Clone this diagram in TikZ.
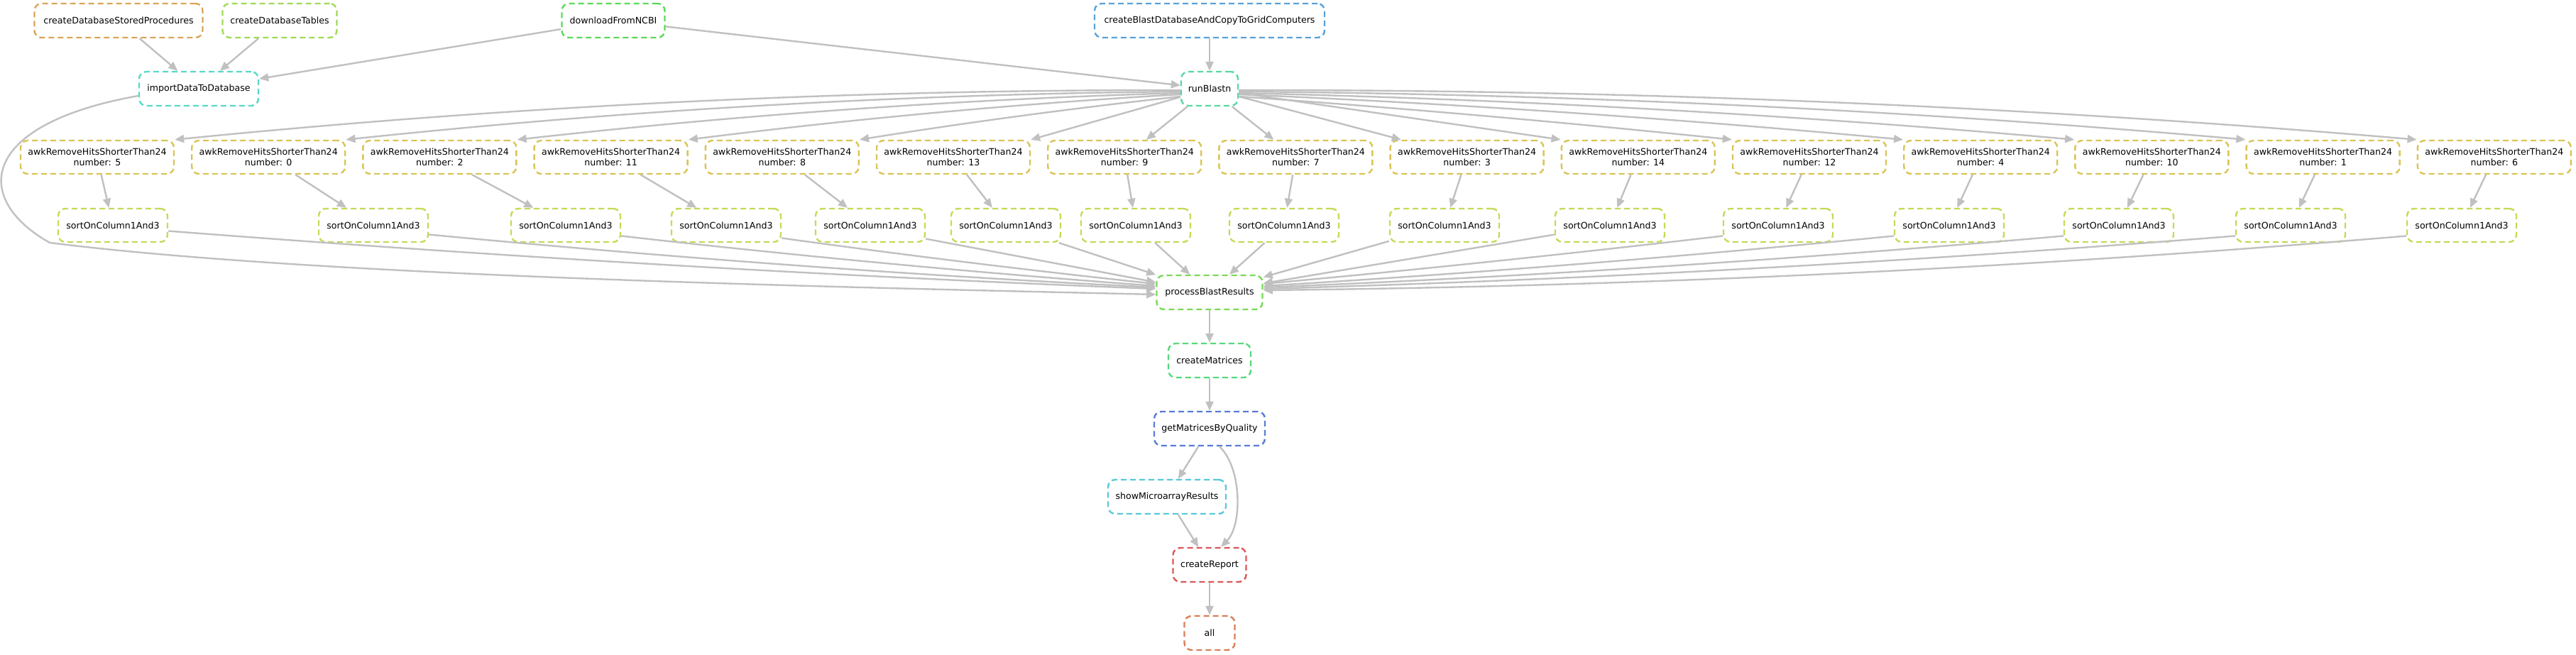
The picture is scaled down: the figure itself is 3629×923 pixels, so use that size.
\documentclass[tikz,border=0pt]{standalone}
\usepackage{fontspec}
\setmainfont{DejaVu Sans}
\usetikzlibrary{arrows.meta}
\definecolor{edgegray}{RGB}{192,192,192}
\definecolor{h000}{RGB}{217,87,87}
\definecolor{h005}{RGB}{217,126,87}
\definecolor{h010}{RGB}{217,165,87}
\definecolor{h014}{RGB}{217,196,87}
\definecolor{h019}{RGB}{199,217,87}
\definecolor{h024}{RGB}{160,217,87}
\definecolor{h029}{RGB}{121,217,87}
\definecolor{h033}{RGB}{90,217,87}
\definecolor{h038}{RGB}{87,217,123}
\definecolor{h043}{RGB}{87,217,162}
\definecolor{h048}{RGB}{87,217,201}
\definecolor{h052}{RGB}{87,201,217}
\definecolor{h057}{RGB}{87,162,217}
\definecolor{h062}{RGB}{87,123,217}
\begin{document}
\begin{tikzpicture}[x=1pt,y=1pt,
  rulebox/.style={draw=#1, rectangle, rounded corners=10pt, line width=2.4pt,
    dash pattern=on 8pt off 5pt, minimum height=48pt, inner sep=0pt,
    font=\fontsize{12.6}{15}\selectfont, align=center, text=black},
  awkbox/.style={rulebox=h014, minimum width=216pt, minimum height=47pt},
  sortbox/.style={rulebox=h019, minimum width=154pt, minimum height=47pt},
  dagedge/.style={draw=edgegray, line width=2.4pt, -{Triangle[length=13pt,width=11pt]}}]
\useasboundingbox (0,0) rectangle (3629,-923);

% top rows
\node[rulebox=h010, minimum width=237pt] (cdsp) at (167,-29) {createDatabaseStoredProcedures};
\node[rulebox=h024, minimum width=161pt] (cdt) at (394,-29) {createDatabaseTables};
\node[rulebox=h033, minimum width=145pt] (dl) at (864,-29) {downloadFromNCBI};
\node[rulebox=h057, minimum width=324pt] (cbd) at (1704,-29) {createBlastDatabaseAndCopyToGridComputers};
\node[rulebox=h048, minimum width=168pt] (imp) at (280,-125) {importDataToDatabase};
\node[rulebox=h043, minimum width=80pt] (rb) at (1704,-125) {runBlastn};

% awk row
\node[awkbox] (a5)  at (137.0,-221.5)  {awkRemoveHitsShorterThan24\\number: 5};
\node[awkbox] (a0)  at (378.2,-221.5)  {awkRemoveHitsShorterThan24\\number: 0};
\node[awkbox] (a2)  at (619.4,-221.5)  {awkRemoveHitsShorterThan24\\number: 2};
\node[awkbox] (a11) at (860.6,-221.5)  {awkRemoveHitsShorterThan24\\number: 11};
\node[awkbox] (a8)  at (1101.8,-221.5) {awkRemoveHitsShorterThan24\\number: 8};
\node[awkbox] (a13) at (1343.0,-221.5) {awkRemoveHitsShorterThan24\\number: 13};
\node[awkbox] (a9)  at (1584.2,-221.5) {awkRemoveHitsShorterThan24\\number: 9};
\node[awkbox] (a7)  at (1825.4,-221.5) {awkRemoveHitsShorterThan24\\number: 7};
\node[awkbox] (a3)  at (2066.6,-221.5) {awkRemoveHitsShorterThan24\\number: 3};
\node[awkbox] (a14) at (2307.8,-221.5) {awkRemoveHitsShorterThan24\\number: 14};
\node[awkbox] (a12) at (2549.0,-221.5) {awkRemoveHitsShorterThan24\\number: 12};
\node[awkbox] (a4)  at (2790.2,-221.5) {awkRemoveHitsShorterThan24\\number: 4};
\node[awkbox] (a10) at (3031.4,-221.5) {awkRemoveHitsShorterThan24\\number: 10};
\node[awkbox] (a1)  at (3272.6,-221.5) {awkRemoveHitsShorterThan24\\number: 1};
\node[awkbox] (a6)  at (3513.8,-221.5) {awkRemoveHitsShorterThan24\\number: 6};

% sort row
\node[sortbox] (s5)  at (159,-317.5)  {sortOnColumn1And3};
\node[sortbox] (s0)  at (526,-317.5)  {sortOnColumn1And3};
\node[sortbox] (s2)  at (797,-317.5)  {sortOnColumn1And3};
\node[sortbox] (s11) at (1023,-317.5) {sortOnColumn1And3};
\node[sortbox] (s8)  at (1226,-317.5) {sortOnColumn1And3};
\node[sortbox] (s13) at (1417,-317.5) {sortOnColumn1And3};
\node[sortbox] (s9)  at (1600,-317.5) {sortOnColumn1And3};
\node[sortbox] (s7)  at (1809,-317.5) {sortOnColumn1And3};
\node[sortbox] (s3)  at (2035,-317.5) {sortOnColumn1And3};
\node[sortbox] (s14) at (2268,-317.5) {sortOnColumn1And3};
\node[sortbox] (s12) at (2505,-317.5) {sortOnColumn1And3};
\node[sortbox] (s4)  at (2746,-317.5) {sortOnColumn1And3};
\node[sortbox] (s10) at (2985,-317.5) {sortOnColumn1And3};
\node[sortbox] (s1)  at (3227,-317.5) {sortOnColumn1And3};
\node[sortbox] (s6)  at (3468,-317.5) {sortOnColumn1And3};

% bottom chain
\node[rulebox=h029, minimum width=149pt] (pbr) at (1704,-412) {processBlastResults};
\node[rulebox=h038, minimum width=116pt] (cm) at (1704,-508) {createMatrices};
\node[rulebox=h062, minimum width=156pt] (gm) at (1704,-604) {getMatricesByQuality};
\node[rulebox=h052, minimum width=166pt] (smr) at (1644,-700) {showMicroarrayResults};
\node[rulebox=h000, minimum width=103pt] (cr) at (1704,-796) {createReport};
\node[rulebox=h005, minimum width=71pt] (nall) at (1704,-892) {all};

% top edges
\draw[dagedge] (cdsp) -- (imp);
\draw[dagedge] (cdt) -- (imp);
\draw[dagedge] (dl) -- (imp);
\draw[dagedge] (dl) -- (rb);
\draw[dagedge] (cbd) -- (rb);

% runBlastn -> awk
\draw[dagedge] ([yshift=-2pt]rb.west) .. controls (1191,-126.3) and (718,-149.7) .. (a5.north east);
\draw[dagedge] ([yshift=-4pt]rb.west) .. controls (1272,-132.7) and (879,-155.3) .. (a0.north east);
\draw[dagedge] ([yshift=-6pt]rb.west) .. controls (1352,-140) and (1040,-162) .. (a2.north east);
\draw[dagedge] ([yshift=-8pt]rb.west) .. controls (1432,-146.3) and (1201,-167.7) .. (a11.north east);
\draw[dagedge] ([yshift=-11pt]rb.west) .. controls (1513,-152.3) and (1361,-172.7) .. (a8.north east);
\draw[dagedge] (rb) -- (a13.north east);
\draw[dagedge] (rb) -- (a9);
\draw[dagedge] (rb) -- (a7);
\draw[dagedge] (rb) -- (a3);
\draw[dagedge] (rb) -- (a14.north west);
\draw[dagedge] ([yshift=-11pt]rb.east) .. controls (1977,-152.3) and (2208,-172.7) .. (a12.north west);
\draw[dagedge] ([yshift=-8pt]rb.east) .. controls (2057,-146.3) and (2369,-167.7) .. (a4.north west);
\draw[dagedge] ([yshift=-6pt]rb.east) .. controls (2137,-140) and (2530,-162) .. (a10.north west);
\draw[dagedge] ([yshift=-4pt]rb.east) .. controls (2218,-132.7) and (2690,-155.3) .. (a1.north west);
\draw[dagedge] ([yshift=-2pt]rb.east) .. controls (2298,-126.3) and (2852,-149.7) .. (a6.north west);

% awk -> sort
\draw[dagedge] (a5) -- (s5);
\draw[dagedge] (a0) -- (s0);
\draw[dagedge] (a2) -- (s2);
\draw[dagedge] (a11) -- (s11);
\draw[dagedge] (a8) -- (s8);
\draw[dagedge] (a13) -- (s13);
\draw[dagedge] (a9) -- (s9);
\draw[dagedge] (a7) -- (s7);
\draw[dagedge] (a3) -- (s3);
\draw[dagedge] (a14) -- (s14);
\draw[dagedge] (a12) -- (s12);
\draw[dagedge] (a4) -- (s4);
\draw[dagedge] (a10) -- (s10);
\draw[dagedge] (a1) -- (s1);
\draw[dagedge] (a6) -- (s6);

% sort -> processBlastResults
\draw[dagedge] ([yshift=-8pt]s5.east) .. controls (700,-361.3) and (1164,-388.7) .. ([yshift=5pt]pbr.west);
\draw[dagedge] ([yshift=-13pt]s0.east) .. controls (945,-363) and (1286,-388) .. ([yshift=7pt]pbr.west);
\draw[dagedge] ([yshift=-15pt]s2.east) .. controls (1125,-360.7) and (1377,-384.3) .. ([yshift=9pt]pbr.west);
\draw[dagedge] ([yshift=-18pt]s11.east) .. controls (1277,-359.7) and (1452,-381.3) .. ([yshift=12pt]pbr.west);
\draw[dagedge] ([yshift=-19pt]s8.east) -- (pbr);
\draw[dagedge] (s13) -- (pbr);
\draw[dagedge] (s9) -- (pbr);
\draw[dagedge] (s7) -- (pbr);
\draw[dagedge] (s3) -- (pbr);
\draw[dagedge] (s14) -- (pbr);
\draw[dagedge] ([yshift=-15pt]s12.west) .. controls (2211,-357.7) and (1995,-380.3) .. ([yshift=12pt]pbr.east);
\draw[dagedge] ([yshift=-15pt]s4.west) .. controls (2372,-361.7) and (2075,-385.3) .. ([yshift=9pt]pbr.east);
\draw[dagedge] ([yshift=-15pt]s10.west) .. controls (2531,-365.3) and (2155,-389.7) .. ([yshift=7pt]pbr.east);
\draw[dagedge] ([yshift=-15pt]s1.west) .. controls (2692,-369) and (2236,-394) .. ([yshift=5pt]pbr.east);
\draw[dagedge] ([yshift=-15pt]s6.west) .. controls (2853,-377.7) and (2316,-403.3) .. ([yshift=3pt]pbr.east);

% importDataToDatabase -> processBlastResults
\draw[dagedge] ([yshift=-10pt]imp.west) .. controls (-30,-175) and (-40,-280) .. (70,-342)
  .. controls (450,-390) and (1200,-405) .. ([yshift=-3pt]pbr.west);

% bottom chain edges
\draw[dagedge] (pbr) -- (cm);
\draw[dagedge] (cm) -- (gm);
\draw[dagedge] (gm) -- (smr);
\draw[dagedge] ([xshift=14pt]gm.south) .. controls (1750,-660) and (1750,-740) .. ([xshift=16pt]cr.north);
\draw[dagedge] (smr) -- (cr);
\draw[dagedge] (cr) -- (nall);
\end{tikzpicture}
\end{document}
